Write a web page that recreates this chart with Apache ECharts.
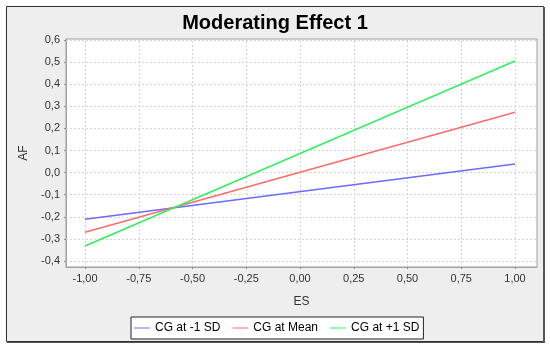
<!DOCTYPE html>
<html><head><meta charset="utf-8">
<script src="https://cdn.jsdelivr.net/npm/echarts@6/dist/echarts.min.js"></script>
<style>html,body{margin:0;padding:0;background:#fff}#c{width:550px;height:350px}</style>
</head><body><div id="c"></div>
<script>
var titleText = 'Moderating Effect 1';
var xName = 'ES';
var yName = 'AF';
var xTicks = [-1, -0.75, -0.5, -0.25, 0, 0.25, 0.5, 0.75, 1];
var yTicks = [-0.4, -0.3, -0.2, -0.1, 0, 0.1, 0.2, 0.3, 0.4, 0.5, 0.6];
var xValues = [-1, 1];
var seriesNames = ['CG at -1 SD', 'CG at Mean', 'CG at +1 SD'];
var lowSD = [-0.211, 0.039];
var meanCG = [-0.270, 0.273];
var highSD = [-0.332, 0.505];
var colors = ['#6b6bff', '#ff6b6b', '#2ef060'];

function fmt(d){ return function(v){ return Number(v).toFixed(d).replace('.', ','); }; }
function pairs(ys){ return xValues.map(function(x,i){ return [x, ys[i]]; }); }
var allSeries = [lowSD, meanCG, highSD];

var gridLineData = xTicks.map(function(v){ return {xAxis: v}; })
  .concat(yTicks.map(function(v){ return {yAxis: v}; }));

var series = [{
  type: 'line', data: [], silent: true, z: 1,
  markLine: {
    silent: true, symbol: ['none', 'none'], animation: false, z: 1,
    label: {show: false},
    lineStyle: {color: '#d4d4d4', type: [2, 2], width: 1},
    emphasis: {disabled: true},
    data: gridLineData
  }
}].concat(allSeries.map(function(ys, i){
  return {name: seriesNames[i], type: 'line', data: pairs(ys), showSymbol: false, z: 5,
    lineStyle: {color: colors[i], width: 1.5}, itemStyle: {color: colors[i]}};
}));

var chart = echarts.init(document.getElementById('c'));
chart.setOption({
  animation: false,
  backgroundColor: '#ffffff',
  graphic: [
    {type:'rect', z:-10, shape:{x:6.5, y:6.5, width:537, height:335}, style:{fill:'#eeeeee', stroke:'#333333', lineWidth:1}},
    {type:'rect', z:-9, shape:{x:543, y:7, width:2, height:336}, style:{fill:'#555555'}},
    {type:'rect', z:-9, shape:{x:7, y:342, width:538, height:1}, style:{fill:'#555555'}}
  ],
  title: {
    text: titleText, left: 'center', top: 8,
    textStyle: {fontFamily: 'Liberation Sans', fontWeight: 'bold', fontSize: 20, color: '#000'}
  },
  legend: {
    left: 131, top: 317, width: 290,
    padding: [5, 4, 5, 3],
    backgroundColor: '#ffffff', borderColor: '#222', borderWidth: 1,
    icon: 'rect', itemWidth: 16, itemHeight: 1, itemGap: 12,
    textStyle: {fontFamily: 'Liberation Sans', fontSize: 12, color: '#000'},
    data: seriesNames
  },
  grid: {left: 66, right: 13, top: 39, bottom: 83, show: true, backgroundColor: '#ffffff', borderColor: '#a0a0a0', borderWidth: 1},
  xAxis: {
    type: 'value', min: -1.0884, max: 1.1023,
    name: xName, nameLocation: 'middle', nameGap: 29,
    nameTextStyle: {fontFamily: 'Liberation Sans', fontSize: 12, color: '#333'},
    axisLine: {show: true, onZero: false, lineStyle: {color: '#a0a0a0'}},
    axisTick: {show: true, length: 2, customValues: xTicks, lineStyle: {color: '#888'}},
    axisLabel: {customValues: xTicks, formatter: fmt(2), fontFamily: 'Liberation Sans', fontSize: 11, color: '#333', margin: 6},
    splitLine: {show: false}
  },
  yAxis: {
    type: 'value', min: -0.4271, max: 0.6045,
    name: yName, nameLocation: 'middle', nameGap: 28,
    nameTextStyle: {fontFamily: 'Liberation Sans', fontSize: 12, color: '#333'},
    axisLine: {show: true, onZero: false, lineStyle: {color: '#a0a0a0'}},
    axisTick: {show: true, length: 2, customValues: yTicks, lineStyle: {color: '#888'}},
    axisLabel: {customValues: yTicks, formatter: fmt(1), fontFamily: 'Liberation Sans', fontSize: 11, color: '#333', margin: 6},
    splitLine: {show: false}
  },
  series: series
});
</script></body></html>
